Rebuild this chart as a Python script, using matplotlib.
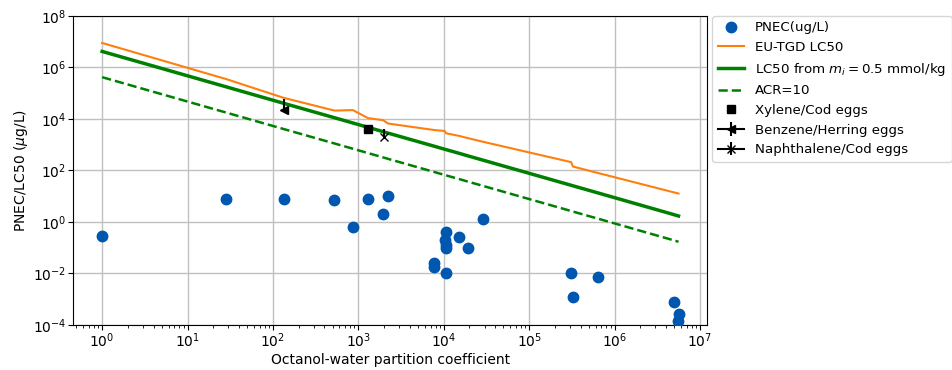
import numpy as np
import matplotlib
matplotlib.use("Agg")
import matplotlib.pyplot as plt
from matplotlib.ticker import NullLocator

# PNEC data points
kow = [1, 28.5, 133, 525, 860, 1300, 1950, 2230, 7700, 7700, 10200, 10700,
       10700, 10700, 10700, 15000, 19000, 28600, 310000, 325000, 640000,
       4.9e6, 5.6e6, 5.5e6]
pnec = [0.29, 7.6, 8.0, 7.0, 0.64, 8.0, 2.0, 10, 0.025, 0.017, 0.20, 0.39,
        0.13, 0.10, 0.0102, 0.25, 0.10, 1.3, 0.0102, 0.0012, 0.007,
        0.0008, 0.00027, 0.00014]

# LC50 curves
kow_curve = [1, 28.5, 133, 525, 860, 1300, 1950, 2230, 7700, 10200, 10700,
             15000, 19000, 28600, 310000, 325000, 640000, 4.9e6, 5.6e6]
eu_tgd_lc50 = [8.9e6, 3.5e5, 6.6e4, 2.1e4, 2.2e4, 1.07e4, 8.9e3, 6.6e3,
               3.7e3, 3.4e3, 2.75e3, 2.2e3, 1.8e3, 1.3e3, 209, 141, 79,
               14.1, 12.6]
lc50_mi = [4.17e6, 1.75e5, 4.05e4, 1.11e4, 6.95e3, 4.69e3, 3.19e3, 2.80e3,
           871, 665, 637, 464, 369, 251, 26.4, 25.2, 13.3, 1.93, 1.69]
acr10 = [4.17e5, 1.75e4, 4.05e3, 1.11e3, 695, 469, 319, 280,
         87.1, 66.5, 63.7, 46.4, 36.9, 25.1, 2.64, 2.52, 1.33, 0.193, 0.169]

# egg experiments
xylene_kow, xylene_lc50 = 1280, 4100
benzene_kow, benzene_lc50, benzene_up = 133, 2.3e4, 3.7e4
naph_kow, naph_lc50, naph_up = 2000, 1950, 2200

fig = plt.figure(figsize=(9.52, 3.70), dpi=100)
ax = fig.add_axes([0.077, 0.122, 0.666, 0.835])

ax.plot(kow, pnec, 'o', color='#0057b0', ms=7.5, label='PNEC(ug/L)', zorder=3)
ax.plot(kow_curve, eu_tgd_lc50, color='#ff7f0e', lw=1.5, label='EU-TGD LC50')
ax.plot(kow_curve, lc50_mi, color='green', lw=2.5,
        label='LC50 from $m_i = 0.5$ mmol/kg')
ax.plot(kow_curve, acr10, '--', color='green', lw=1.8, label='ACR=10')
ax.plot([xylene_kow], [xylene_lc50], 's', color='k', ms=6,
        label='Xylene/Cod eggs', zorder=4)
ax.errorbar([benzene_kow], [benzene_lc50], yerr=[[0], [benzene_up]],
            marker='<', color='k', ms=6, label='Benzene/Herring eggs', zorder=4)
ax.errorbar([naph_kow], [naph_lc50], yerr=[[0], [naph_up]],
            marker='x', color='k', ms=6, label='Naphthalene/Cod eggs', zorder=4)

ax.set_xscale('log')
ax.set_yscale('log')
ax.set_ylim(1e-4, 1e8)
ax.set_yticks([1e-4, 1e-2, 1e0, 1e2, 1e4, 1e6, 1e8])
ax.yaxis.set_minor_locator(NullLocator())
ax.grid(True, which='major', color='#c0c0c0', lw=1)
ax.set_axisbelow(True)
ax.tick_params(axis='both', which='major', pad=1.5)

ax.set_xlabel('Octanol-water partition coefficient', labelpad=2)
ax.set_ylabel(r'PNEC/LC50 ($\mu$g/L)', labelpad=2)

ax.legend(loc='upper left', bbox_to_anchor=(1.008, 1.0), borderaxespad=0,
          fontsize=9.6)

fig.savefig('out.png', dpi=100)
